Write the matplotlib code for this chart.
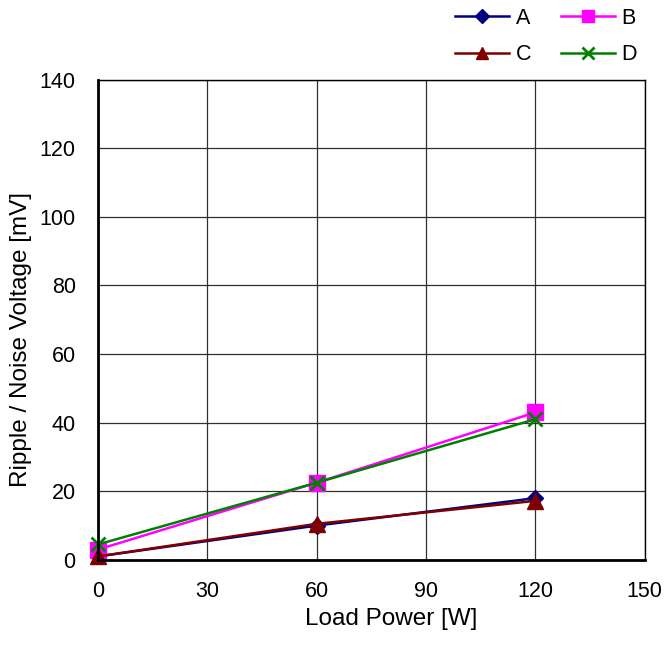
import numpy as np
import matplotlib
matplotlib.use("Agg")
import matplotlib.pyplot as plt

plt.rcParams['font.family'] = ['Liberation Sans', 'DejaVu Sans']

# Datos
power = [0, 60, 120]
ripple_a = [1.0, 10.0, 18.0]
ripple_b = [3.0, 22.5, 43.0]
ripple_c = [1.0, 10.5, 17.2]
ripple_d = [4.5, 22.5, 41.0]

fig = plt.figure(figsize=(6.66, 6.48), dpi=100)
ax = fig.add_axes([0.147, 0.136, 0.821, 0.741])

la, = ax.plot(power, ripple_a, color='#000080', marker='D', markersize=8, lw=1.8, label='A', clip_on=False)
lb, = ax.plot(power, ripple_b, color='#ff00ff', marker='s', markersize=11, lw=1.8, label='B', clip_on=False)
lc, = ax.plot(power, ripple_c, color='#800000', marker='^', markersize=11, lw=1.8, label='C', clip_on=False)
ld, = ax.plot(power, ripple_d, color='#008000', marker='x', markersize=10, mew=2, lw=1.8, label='D', clip_on=False)

ax.set_xlim(0, 150)
ax.set_ylim(0, 140)
ax.set_xticks(np.arange(0, 151, 30))
ax.set_yticks(np.arange(0, 141, 20))
ax.tick_params(labelsize=15.5, length=0)
ax.tick_params(axis='x', pad=15)
ax.tick_params(axis='y', pad=16)
ax.grid(True, color='#303030', lw=0.9)
ax.set_axisbelow(True)
for k, s in ax.spines.items():
    s.set_color('black')
    s.set_linewidth(2 if k in ('left', 'bottom') else 1)

ax.set_xlabel('Load Power [W]', fontsize=17.5)
ax.set_ylabel('Ripple / Noise Voltage [mV]', fontsize=17.5)
ax.xaxis.set_label_coords(0.536, -0.123)
ax.yaxis.set_label_coords(-0.141, 0.458)
ax.xaxis.label.set_va('center')
ax.yaxis.label.set_va('center')

# orden por filas: A B / C D
fig.legend([la, lc, lb, ld], ['A', 'C', 'B', 'D'], loc='upper right',
           bbox_to_anchor=(0.976, 1.008), ncol=2, frameon=False,
           fontsize=15.5, handlelength=2.5, handletextpad=0.3,
           columnspacing=1.4, labelspacing=0.72, borderaxespad=0.2,
           markerscale=0.85)

fig.savefig('out.png', dpi=100)
